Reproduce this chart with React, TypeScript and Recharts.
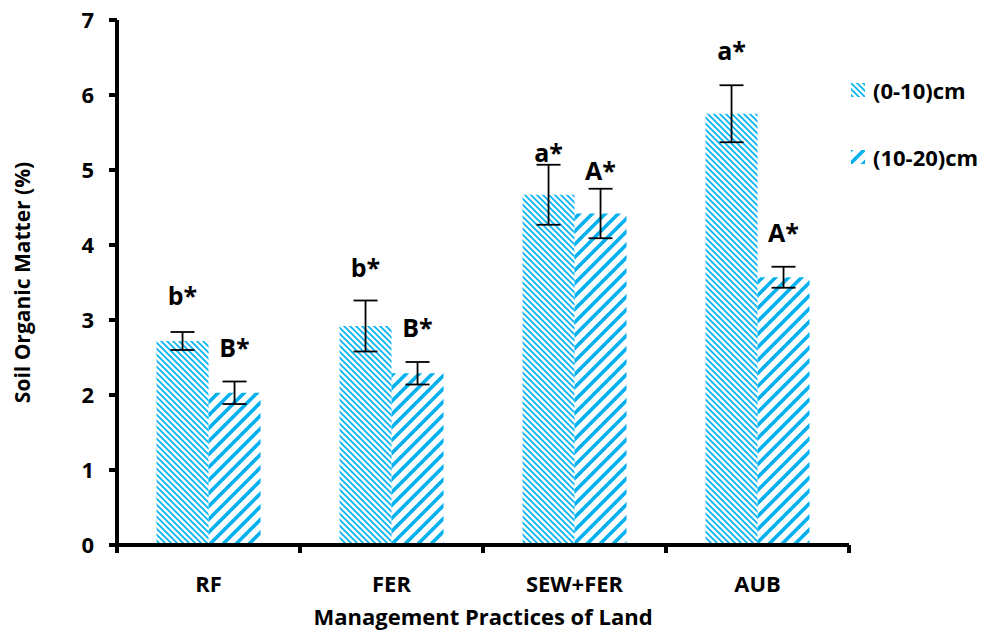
import React from "react";
import { BarChart, Bar, XAxis, YAxis, ErrorBar, LabelList } from "recharts";

const practices = ["RF", "FER", "SEW+FER", "AUB"];
const shallow = [2.72, 2.92, 4.67, 5.75];
const shallowErr = [0.12, 0.34, 0.4, 0.38];
const deep = [2.03, 2.29, 4.42, 3.57];
const deepErr = [0.15, 0.15, 0.33, 0.14];
const shallowSig = ["b*", "b*", "a*", "a*"];
const deepSig = ["B*", "B*", "A*", "A*"];
const shallowSigAt = [3.33, 3.71, 5.24, 6.6];
const deepSigAt = [2.64, 2.91, 5.0, 4.17];
const yTicks = [0, 1, 2, 3, 4, 5, 6, 7];
const seriesNames = ["(0-10)cm", "(10-20)cm"];

const FONT = "'Open Sans', Lato, sans-serif";
const BLUE = "#00B0F0";

const data = practices.map((p, i) => ({
  name: p,
  shallow: shallow[i],
  shallowErr: shallowErr[i],
  deep: deep[i],
  deepErr: deepErr[i],
}));

/* eslint-disable @typescript-eslint/no-explicit-any */
function sigLabel(sig: string[], at: number[], vals: number[]) {
  return (props: any) => {
    const x = Number(props.x);
    const y = Number(props.y);
    const w = Number(props.width);
    const h = Number(props.height);
    const i = props.index;
    const perUnit = h / vals[i];
    const cy = y + h - at[i] * perUnit;
    return (
      <text
        x={x + w / 2}
        y={cy}
        textAnchor="middle"
        dominantBaseline="central"
        fontFamily={FONT}
        fontWeight={700}
        fontSize={25}
        fill="#000"
      >
        {sig[i]}
      </text>
    );
  };
}

function XTick(props: any) {
  const { x, y, payload, index } = props;
  const off = payload.offset ?? 0;
  return (
    <g>
      <line x1={x - off} x2={x - off} y1={y} y2={y + 8} stroke="#000" strokeWidth={4} />
      {index === practices.length - 1 && (
        <line x1={x + off} x2={x + off} y1={y} y2={y + 8} stroke="#000" strokeWidth={4} />
      )}
      <text
        x={x}
        y={y + 38}
        textAnchor="middle"
        dominantBaseline="central"
        fontFamily={FONT}
        fontWeight={700}
        fontSize={22}
        fill="#000"
      >
        {payload.value}
      </text>
    </g>
  );
}
/* eslint-enable @typescript-eslint/no-explicit-any */

function Swatch({ fill }: { fill: string }) {
  return (
    <svg width={14} height={14} style={{ marginRight: 8 }}>
      <rect width={14} height={14} fill={fill} />
    </svg>
  );
}

export default function App() {
  return (
    <div style={{ position: "absolute", left: 0, top: 0, width: 988, height: 634, background: "#fff" }}>
      <BarChart
        width={988}
        height={634}
        data={data}
        margin={{ top: 20, right: 139, bottom: 0, left: 0 }}
        barCategoryGap="21.6%"
        barGap={0}
      >
        <defs>
          <pattern id="patThin" patternUnits="userSpaceOnUse" width={6} height={6}>
            <path d="M0,0 L6,6 M-1,5 L1,7 M5,-1 L7,1" stroke={BLUE} strokeWidth={1.6} />
          </pattern>
          <pattern id="patThick" patternUnits="userSpaceOnUse" width={13} height={13}>
            <path d="M0,13 L13,0 M-3,3 L3,-3 M10,16 L16,10" stroke={BLUE} strokeWidth={3.6} />
          </pattern>
        </defs>
        <XAxis
          dataKey="name"
          axisLine={{ stroke: "#000", strokeWidth: 4 }}
          tickLine={false}
          tickSize={0}
          tickMargin={0}
          height={89}
          tick={<XTick />}
          interval={0}
          label={{
            value: "Management Practices of Land",
            position: "insideBottom",
            offset: 9,
            style: { fontFamily: FONT, fontWeight: 700, fontSize: 22, fill: "#000" },
          }}
        />
        <YAxis
          domain={[0, 7]}
          ticks={yTicks}
          width={117}
          axisLine={{ stroke: "#000", strokeWidth: 4 }}
          tickLine={{ stroke: "#000", strokeWidth: 4 }}
          tickSize={8}
          tickMargin={15}
          tick={{ fontFamily: FONT, fontWeight: 700, fontSize: 22, fill: "#000" }}
          label={{
            value: "Soil Organic Matter (%)",
            angle: -90,
            position: "center",
            dx: -36,
            style: { fontFamily: FONT, fontWeight: 700, fontSize: 21, fill: "#000", textAnchor: "middle" },
          }}
        />
        <Bar dataKey="shallow" name={seriesNames[0]} fill="url(#patThin)" isAnimationActive={false}>
          <ErrorBar dataKey="shallowErr" width={12} stroke="#000" strokeWidth={1.8} />
          <LabelList dataKey="shallow" content={sigLabel(shallowSig, shallowSigAt, shallow)} />
        </Bar>
        <Bar dataKey="deep" name={seriesNames[1]} fill="url(#patThick)" isAnimationActive={false}>
          <ErrorBar dataKey="deepErr" width={12} stroke="#000" strokeWidth={1.8} />
          <LabelList dataKey="deep" content={sigLabel(deepSig, deepSigAt, deep)} />
        </Bar>
      </BarChart>
      <div
        style={{
          position: "absolute",
          left: 851,
          top: 76,
          fontFamily: FONT,
          fontWeight: 700,
          fontSize: 22,
          color: "#000",
        }}
      >
        <div style={{ display: "flex", alignItems: "center", height: 28 }}>
          <Swatch fill="url(#patThin)" />
          {seriesNames[0]}
        </div>
        <div style={{ display: "flex", alignItems: "center", height: 28, marginTop: 39 }}>
          <Swatch fill="url(#patThick)" />
          {seriesNames[1]}
        </div>
      </div>
    </div>
  );
}
